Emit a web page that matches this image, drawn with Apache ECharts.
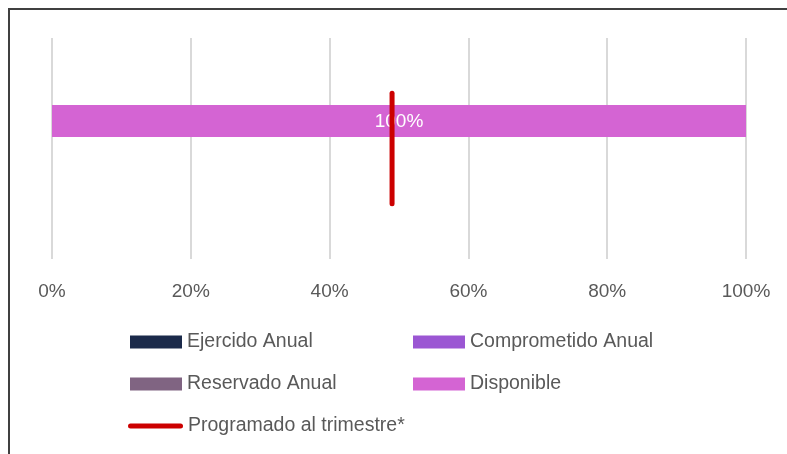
<!DOCTYPE html>
<html><head><meta charset="utf-8">
<script src="https://cdn.jsdelivr.net/npm/echarts@6/dist/echarts.min.js"></script>
<style>html,body{margin:0;padding:0;background:#fff}#c{width:787px;height:454px}</style>
</head><body><div id="c"></div>
<script>
// Data
const categories = ['Presupuesto'];
const ejercidoAnual = [0];
const comprometidoAnual = [0];
const reservadoAnual = [0];
const disponible = [1];
const programadoTrimestre = 0.49;      // x position of the quarterly target marker
const programadoExtent = [0.25, 0.75]; // vertical extent of the marker (fraction of plot height)

const FONT = 'Liberation Sans';
const TXT = '#595959';
const chart = echarts.init(document.getElementById('c'));

function stackBar(name, data, color, showLabel) {
  return {
    name, type: 'bar', stack: 'total', xAxisIndex: 0, yAxisIndex: 0,
    data, barWidth: 32, itemStyle: { color },
    label: {
      show: showLabel, position: 'inside', color: '#ffffff', offset: [0, 1],
      fontFamily: FONT, fontSize: 19,
      formatter: p => p.value > 0 ? Math.round(p.value * 100) + '%' : ''
    }
  };
}

function legendAt(name, left, top, extra) {
  return Object.assign({
    data: [name], left, top, orient: 'horizontal',
    itemWidth: 52, itemHeight: 13, selectedMode: false, icon: 'rect',
    textStyle: { fontFamily: FONT, fontSize: 19.5, color: TXT },
    padding: 0
  }, extra || {});
}

chart.setOption({
  animation: false,
  backgroundColor: '#ffffff',
  graphic: [{
    type: 'rect', shape: { x: 9, y: 9, width: 800, height: 480 },
    style: { fill: 'none', stroke: '#404040', lineWidth: 2 }, silent: true, z: 100
  }],
  grid: [
    { left: 52, right: 41, top: 105, height: 32 },
    { left: 52, right: 41, top: 38, height: 221 }
  ],
  xAxis: [
    { gridIndex: 0, type: 'value', min: 0, max: 1, show: false },
    { gridIndex: 1, type: 'value', min: 0, max: 1, interval: 0.2,
      axisLine: { show: false }, axisTick: { show: false },
      splitLine: { show: true, lineStyle: { color: '#d9d9d9', width: 2 } },
      axisLabel: { margin: 23, fontFamily: FONT, fontSize: 19, color: TXT,
        formatter: v => Math.round(v * 100) + '%' } }
  ],
  yAxis: [
    { gridIndex: 0, type: 'category', data: categories, show: false },
    { gridIndex: 1, type: 'value', min: 0, max: 1, show: false }
  ],
  legend: [
    legendAt('Ejercido Anual', 130, 332),
    legendAt('Comprometido Anual', 413, 332),
    legendAt('Reservado Anual', 130, 374),
    legendAt('Disponible', 413, 374),
    legendAt('Programado al trimestre*', 128, 416, {
      itemWidth: 55, itemHeight: 5,
      icon: 'path://M2.5,0 H52.5 A2.5,2.5 0 0 1 52.5,5 H2.5 A2.5,2.5 0 0 1 2.5,0 Z'
    })
  ],
  series: [
    stackBar('Ejercido Anual', ejercidoAnual, '#1b2a4a', false),
    stackBar('Comprometido Anual', comprometidoAnual, '#9b56d3', false),
    stackBar('Reservado Anual', reservadoAnual, '#806482', false),
    stackBar('Disponible', disponible, '#d464d3', true),
    {
      name: 'Programado al trimestre*', type: 'line', xAxisIndex: 1, yAxisIndex: 1,
      data: programadoExtent.map(y => [programadoTrimestre, y]),
      symbol: 'none', color: '#cc0000', itemStyle: { color: '#cc0000' },
      lineStyle: { color: '#cc0000', width: 5, cap: 'round' }, z: 10
    }
  ]
});
</script></body></html>
